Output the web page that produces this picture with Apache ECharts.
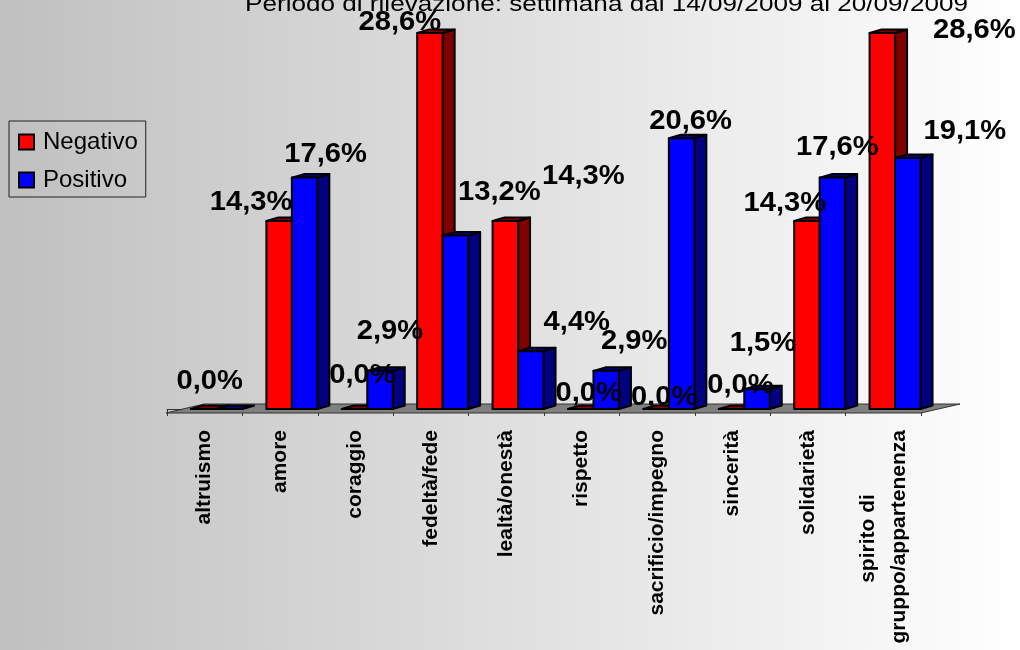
<!DOCTYPE html>
<html><head><meta charset="utf-8">
<style>html,body{margin:0;padding:0;background:#fff}#c{width:1020px;height:650px}</style>
<script src="https://cdn.jsdelivr.net/npm/echarts@6/dist/echarts.min.js"></script>
</head><body><div id="c"></div>
<script>
const titleText = 'Periodo di rilevazione: settimana dal 14/09/2009 al 20/09/2009';
const categories = ['altruismo','amore','coraggio','fedeltà/fede','lealtà/onestà','rispetto','sacrificio/impegno','sincerità','solidarietà','spirito di\ngruppo/appartenenza'];
const negativo = [0,14.3,0,28.6,14.3,0,0,0,14.3,28.6];
const positivo = [0,17.6,2.9,13.2,4.4,2.9,20.6,1.5,17.6,19.1];
const negativoOffsets = [[6,-27],[-28,-18],[8,-33],[-30,-10],[78,-44],[8,-15],[8,-11],[9,-23],[-22,-17],[92,-2]];
const positivoOffsets = [null,[21,-23],[10,-39],[44,-43],[46,-29],[28,-29],[9,-17],[6,-46],[5,-30],[57,-26]];

const DX = 12, DY = -3.5;
const FONT = '"Liberation Sans", Arial, sans-serif';
const fmt = v => v.toFixed(1).replace('.', ',') + '%';

function barRenderer(slot, front, dark) {
  return function (params, api) {
    const i = api.value(0), v = api.value(1);
    const base = api.coord([i, 0]), top = api.coord([i, v]);
    const band = api.size([1, 0])[0];
    const w = band * 0.338;
    const x0 = base[0] - band / 2 + band * 0.318 + slot * w, x1 = x0 + w;
    const yb = base[1], yt = top[1];
    const line = { stroke: '#000', lineWidth: 2, lineJoin: 'round' };
    return { type: 'group', children: [
      { type: 'polygon', shape: { points: [[x1, yb], [x1 + DX, yb + DY], [x1 + DX, yt + DY], [x1, yt]] }, style: Object.assign({ fill: dark }, line) },
      { type: 'polygon', shape: { points: [[x0, yt], [x1, yt], [x1 + DX, yt + DY], [x0 + DX, yt + DY]] }, style: Object.assign({ fill: dark }, line) },
      { type: 'rect', shape: { x: x0, y: yt, width: w, height: yb - yt }, style: Object.assign({ fill: front }, line) }
    ] };
  };
}
function labelRenderer(slot, offsets) {
  return function (params, api) {
    const i = api.value(0), v = api.value(1), off = offsets[i];
    if (!off) return null;
    const top = api.coord([i, v]);
    const band = api.size([1, 0])[0];
    const w = band * 0.338;
    const cx = top[0] - band / 2 + band * 0.318 + (slot + 0.5) * w;
    return { type: 'text', x: cx + off[0], y: top[1] + off[1], scaleX: 1.08, style: {
      text: fmt(v), fill: '#000', align: 'center', verticalAlign: 'middle',
      font: 'bold 27px ' + FONT } };
  };
}
function floorRenderer(params, api) {
  const s = params.coordSys;
  const y0 = s.y + s.height;
  return { type: 'polygon', shape: { points: [[s.x - 1, y0 + 4], [s.x + s.width, y0 + 4], [s.x + s.width + 39, y0 - 5], [s.x + 37, y0 - 5]] },
    style: { fill: '#808080', stroke: '#333', lineWidth: 1 } };
}
const pairs = a => a.map((v, i) => [categories[i], v]);

const chart = echarts.init(document.getElementById('c'), null, { renderer: 'canvas' });
chart.setOption({
  animation: false,
  backgroundColor: { type: 'linear', x: 0, y: 0, x2: 1, y2: 0, colorStops: [{ offset: 0, color: '#c0c0c0' }, { offset: 1, color: '#ffffff' }] },
  graphic: [{ type: 'text', x: 245, y: 16, scaleX: 1.187, silent: true, style: { text: titleText, fill: '#000', align: 'left', verticalAlign: 'bottom', font: 'normal 22px ' + FONT } }],
  legend: {
    left: 9, top: 121, orient: 'vertical', padding: [9, 8, 5, 9], itemGap: 14, itemWidth: 15, itemHeight: 15, icon: 'rect', borderRadius: 0,
    borderColor: '#222', borderWidth: 1, data: ['Negativo', 'Positivo'], selectedMode: false,
    textStyle: { fontFamily: FONT, fontSize: 24, color: '#000', padding: [0, 0, 0, 4] }
  },
  grid: { left: 167, top: 33, width: 754, height: 376, containLabel: false },
  xAxis: {
    type: 'category', data: categories, offset: 4,
    axisLine: { show: true, lineStyle: { color: '#333', width: 1 } },
    axisTick: { show: true, length: 7, interval: 0, lineStyle: { color: '#333' } },
    axisLabel: { interval: 0, rotate: 90, margin: 17, color: '#000', fontWeight: 'bold', fontSize: 21, lineHeight: 31,
      fontFamily: FONT,
      formatter: s => s.split('\n').map((l, i, a) => i === 0 && a.length > 1 ? l + '\u00a0'.repeat(11) : l).join('\n') }
  },
  yAxis: { type: 'value', min: 0, max: 28.6, show: false },
  tooltip: { show: false },
  series: [
    { name: 'floor', type: 'custom', renderItem: floorRenderer, data: [[categories[0], 0]], silent: true, z: 1, clip: false },
    { name: 'Negativo', type: 'custom', renderItem: barRenderer(0, '#ff0000', '#800000'), data: pairs(negativo), z: 2, clip: false,
      itemStyle: { color: '#ff0000', borderColor: '#000', borderWidth: 2 } },
    { name: 'Positivo', type: 'custom', renderItem: barRenderer(1, '#0000ff', '#000080'), data: pairs(positivo), z: 3, clip: false,
      itemStyle: { color: '#0000ff', borderColor: '#000', borderWidth: 2 } },
    { name: 'etichette negativo', type: 'custom', renderItem: labelRenderer(0, negativoOffsets), data: pairs(negativo), z: 5, clip: false, silent: true },
    { name: 'etichette positivo', type: 'custom', renderItem: labelRenderer(1, positivoOffsets), data: pairs(positivo), z: 5, clip: false, silent: true }
  ]
});
</script></body></html>
